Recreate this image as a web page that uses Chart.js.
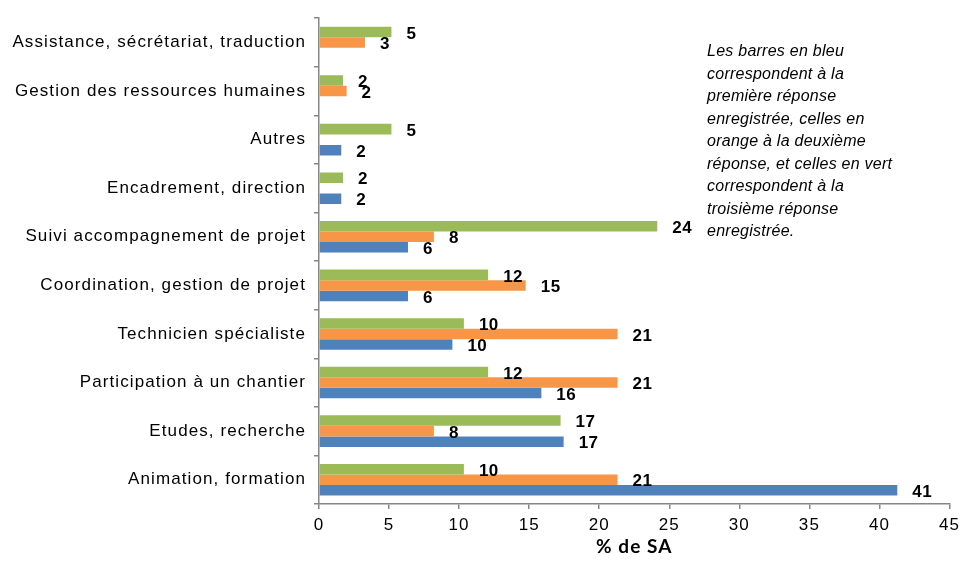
<!DOCTYPE html>
<html>
<head>
<meta charset="utf-8">
<script src="https://cdn.jsdelivr.net/npm/chart.js@4/dist/chart.umd.min.js"></script>
<style>
  html, body { margin: 0; padding: 0; background: #fff; }
  #wrap { position: relative; width: 965px; height: 569px; }
  #note {
    position: absolute; left: 707px; top: 40px;
    font: italic 16px "Liberation Sans", Arial, sans-serif;
    letter-spacing: 0.25px;
    line-height: 22.5px; color: #000; white-space: nowrap;
  }
</style>
</head>
<body>
<div id="wrap">
  <canvas id="c" width="965" height="569"></canvas>
  <div id="note">Les barres en bleu<br>correspondent à la<br>première réponse<br>enregistrée, celles en<br>orange à la deuxième<br>réponse, et celles en vert<br>correspondent à la<br>troisième réponse<br>enregistrée.</div>
</div>
<script>
// Fonctions occupées (% de SA), réponses 1, 2 et 3
const categories = [
  'Assistance, sécrétariat, traduction',
  'Gestion des ressources humaines',
  'Autres',
  'Encadrement, direction',
  'Suivi accompagnement de projet',
  'Coordination, gestion de projet',
  'Technicien spécialiste',
  'Participation à un chantier',
  'Etudes, recherche',
  'Animation, formation'
];
const premiereReponse  = [null, null, 1.59, 1.59, 6.35, 6.35, 9.52, 15.87, 17.46, 41.27];
const deuxiemeReponse  = [3.28, 1.97, null, null, 8.20, 14.75, 21.31, 21.31, 8.20, 21.31];
const troisiemeReponse = [5.17, 1.72, 5.17, 1.72, 24.14, 12.07, 10.34, 12.07, 17.24, 10.34];
const xTicks = [0, 5, 10, 15, 20, 25, 30, 35, 40, 45];
const xTitle = '% de SA';

const FONT = '"Liberation Sans", Arial, sans-serif';

// Slightly loose letter spacing for all canvas text
const spacing = {
  id: 'spacing',
  beforeDraw(chart) { chart.ctx.letterSpacing = '1.1px'; }
};

// Rounded value written just right of each bar end
const valueLabels = {
  id: 'valueLabels',
  afterDatasetsDraw(chart) {
    const ctx = chart.ctx;
    ctx.save();
    ctx.letterSpacing = '0.5px';
    ctx.font = 'bold 17px ' + FONT;
    ctx.fillStyle = '#000';
    ctx.textAlign = 'left';
    ctx.textBaseline = 'middle';
    chart.data.datasets.forEach((ds, i) => {
      const meta = chart.getDatasetMeta(i);
      meta.data.forEach((el, j) => {
        const v = ds.data[j];
        if (v === null || v === undefined) return;
        ctx.fillText(String(Math.round(v)), el.x + 15, el.y + 2);
      });
    });
    ctx.restore();
  }
};

new Chart(document.getElementById('c'), {
  type: 'bar',
  data: {
    labels: categories,
    datasets: [
      { label: 'Troisième réponse', data: troisiemeReponse, backgroundColor: '#9BBB59' },
      { label: 'Deuxième réponse', data: deuxiemeReponse, backgroundColor: '#F79646' },
      { label: 'Première réponse', data: premiereReponse, backgroundColor: '#4F81BD' }
    ]
  },
  options: {
    indexAxis: 'y',
    responsive: false,
    animation: false,
    events: [],
    layout: { padding: { top: 17, right: 13, left: 0, bottom: 0 } },
    datasets: { bar: { categoryPercentage: 0.65, barPercentage: 1.0, skipNull: false } },
    plugins: { legend: { display: false }, tooltip: { enabled: false } },
    scales: {
      x: {
        min: 0, max: 45,
        afterBuildTicks(scale) { scale.ticks = xTicks.map(v => ({ value: v })); },
        afterFit(scale) { scale.height = 65; },
        grid: { drawOnChartArea: false, drawTicks: true, tickLength: 5, color: '#868686', lineWidth: 1.5 },
        border: { color: '#868686', width: 1.5 },
        ticks: { color: '#000', font: { family: FONT, size: 17 }, padding: 6, maxRotation: 0 },
        title: { display: true, text: xTitle, color: '#000', font: { family: 'Lato, "Open Sans", sans-serif', size: 19, weight: 'bold' }, padding: { top: 0, bottom: 11 } }
      },
      y: {
        afterFit(scale) { scale.width = 319; },
        grid: { drawOnChartArea: false, drawTicks: true, tickLength: 5, offset: true, color: '#868686', lineWidth: 1.5 },
        border: { color: '#868686', width: 1.5 },
        ticks: { color: '#000', font: { family: FONT, size: 17 }, padding: 8, autoSkip: false }
      }
    }
  },
  plugins: [spacing, valueLabels]
});
</script>
</body>
</html>
